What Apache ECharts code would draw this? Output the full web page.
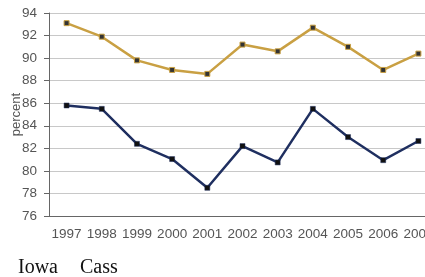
<!DOCTYPE html>
<html>
<head>
<meta charset="utf-8">
<script src="https://cdn.jsdelivr.net/npm/echarts@6/dist/echarts.min.js"></script>
<style>
  html, body { margin: 0; padding: 0; background: #fff; }
  #chart { width: 425px; height: 277px; }
</style>
</head>
<body>
<div id="chart"></div>
<script>
// data
const years = ['1997', '1998', '1999', '2000', '2001', '2002', '2003', '2004', '2005', '2006', '2007'];
const iowa = [85.8, 85.5, 82.4, 81.05, 78.5, 82.2, 80.75, 85.5, 83.0, 80.95, 82.65];
const cass = [93.1, 91.9, 89.8, 88.95, 88.6, 91.2, 90.6, 92.7, 91.0, 88.95, 90.4];

const chart = echarts.init(document.getElementById('chart'));

const option = {
    animation: false,
    // plot runs past the right edge, so the last label gets cut like the original
    grid: { left: 49, top: 13, width: 387, height: 203, outerBoundsMode: 'none', containLabel: false },
    legend: {
        left: 7, top: 253,
        itemWidth: 0, itemHeight: 0, itemGap: 16,
        textStyle: { fontFamily: 'Liberation Serif', fontSize: 20, color: '#111' },
        data: ['Iowa', 'Cass']
    },
    xAxis: {
        type: 'category',
        data: years,
        boundaryGap: true,
        axisLine: { lineStyle: { color: '#666', width: 1 } },
        axisTick: { alignWithLabel: true, length: 5, lineStyle: { color: '#666' } },
        axisLabel: { color: '#555', fontFamily: 'Liberation Sans', fontSize: 13.5, margin: 11, interval: 0, hideOverlap: false }
    },
    yAxis: {
        type: 'value',
        min: 76, max: 94, interval: 2,
        name: 'percent',
        nameLocation: 'middle',
        nameGap: 26,
        nameRotate: 90,
        nameMoveOverlap: false,
        nameTextStyle: { color: '#555', fontFamily: 'Liberation Sans', fontSize: 13 },
        axisLine: { show: true, lineStyle: { color: '#666' } },
        axisTick: { show: true, length: 5, lineStyle: { color: '#666' } },
        axisLabel: { color: '#555', fontFamily: 'Liberation Sans', fontSize: 13.5, margin: 12 },
        splitLine: { lineStyle: { color: '#c8c8c8' } }
    },
    series: [
        {
            name: 'Iowa', type: 'line', data: iowa,
            symbol: 'rect', symbolSize: 5,
            lineStyle: { color: '#1f2f60', width: 2.5 },
            itemStyle: { color: '#111', borderColor: '#1f2f60', borderWidth: 0.5 }
        },
        {
            name: 'Cass', type: 'line', data: cass,
            symbol: 'rect', symbolSize: 5,
            lineStyle: { color: '#c9a043', width: 2.5 },
            itemStyle: { color: '#333', borderColor: '#c9a043', borderWidth: 1 }
        }
    ]
};

chart.setOption(option);
</script>
</body>
</html>
